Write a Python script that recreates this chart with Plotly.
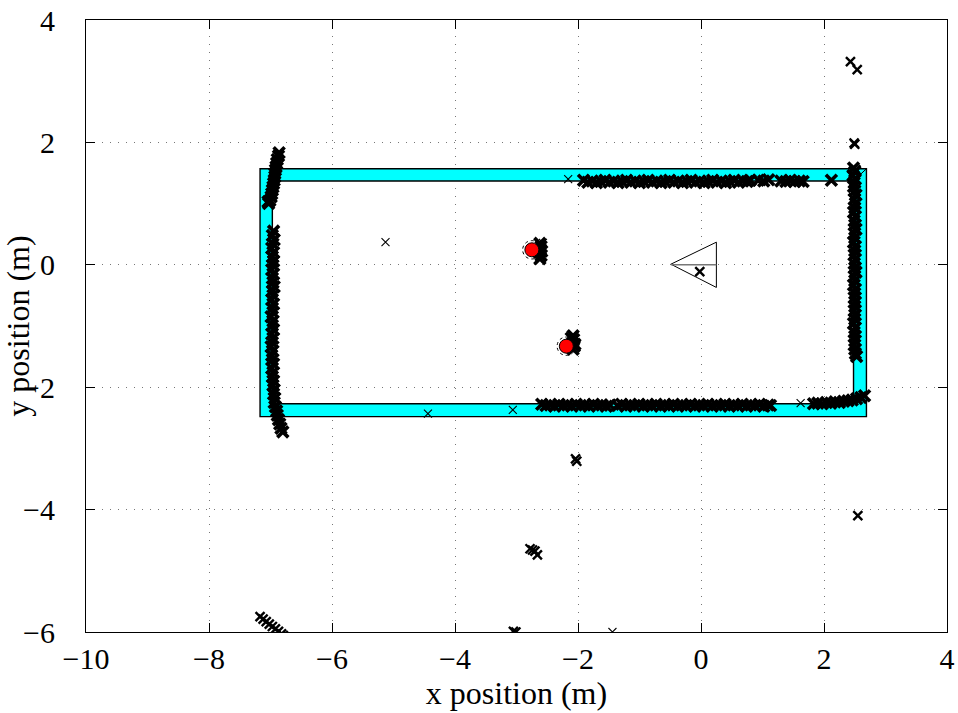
import plotly.graph_objects as go

# ---- room walls (outer / inner rectangle corners, metres) ----
wall_outer_x = [-7.17, 2.69]
wall_outer_y = [-2.48, 1.57]
wall_inner_x = [-6.97, 2.48]
wall_inner_y = [-2.27, 1.37]

# ---- laser scan hits: dense returns along the walls ----
left_up_x = [-6.86, -6.87, -6.89, -6.90, -6.91, -6.92, -6.93, -6.93, -6.94, -6.95,
             -6.96, -6.97, -6.98, -6.99, -7.01, -7.03, -7.04]
left_up_y = [1.83, 1.78, 1.72, 1.66, 1.60, 1.55, 1.49, 1.44, 1.38, 1.33,
             1.27, 1.22, 1.16, 1.11, 1.05, 1.00, 1.03]

left_lo_y = [0.55, 0.48, 0.41, 0.34, 0.27, 0.20, 0.13, 0.06, -0.01, -0.08,
             -0.15, -0.22, -0.29, -0.36, -0.43, -0.50, -0.57, -0.64, -0.71, -0.78,
             -0.85, -0.92, -0.99, -1.06, -1.13, -1.20, -1.27, -1.34, -1.41, -1.48,
             -1.55, -1.62, -1.69, -1.76, -1.83, -1.90, -1.97, -2.04, -2.11, -2.18,
             -2.25, -2.32, -2.39, -2.46, -2.53, -2.60, -2.67, -2.73]
left_lo_x = [-6.95, -6.97, -6.94, -6.96, -6.98, -6.95, -6.97, -6.95, -6.96, -6.98,
             -6.95, -6.97, -6.96, -6.94, -6.97, -6.96, -6.98, -6.95, -6.97, -6.96,
             -6.99, -6.96, -6.97, -6.95, -6.98, -6.96, -6.97, -6.99, -6.96, -6.98,
             -6.97, -6.95, -6.98, -6.96, -6.97, -6.95, -6.96, -6.94, -6.95, -6.93,
             -6.94, -6.92, -6.90, -6.89, -6.87, -6.85, -6.83, -6.80]

top_x = [-1.91, -1.84, -1.77, -1.70, -1.63, -1.56, -1.49, -1.42, -1.35, -1.28,
         -1.21, -1.14, -1.07, -1.00, -0.93, -0.86, -0.79, -0.72, -0.65, -0.58,
         -0.51, -0.44, -0.37, -0.30, -0.23, -0.16, -0.09, -0.02, 0.05, 0.12,
         0.19, 0.26, 0.33, 0.40, 0.47, 0.54, 0.61, 0.68, 0.75, 0.80,
         0.93, 1.02, 1.10, 1.30, 1.38, 1.45, 1.52, 1.60, 1.66, 2.12]
top_y = [1.38, 1.35, 1.37, 1.34, 1.36, 1.38, 1.35, 1.37, 1.34, 1.36,
         1.38, 1.35, 1.37, 1.34, 1.36, 1.38, 1.35, 1.37, 1.34, 1.36,
         1.38, 1.35, 1.37, 1.34, 1.36, 1.38, 1.35, 1.37, 1.34, 1.36,
         1.38, 1.35, 1.37, 1.34, 1.36, 1.38, 1.35, 1.37, 1.36, 1.38,
         1.38, 1.37, 1.39, 1.37, 1.36, 1.38, 1.36, 1.37, 1.36, 1.38]

right_y = [1.58, 1.52, 1.46, 1.40, 1.34, 1.28, 1.21, 1.14, 1.07, 1.00,
           0.93, 0.86, 0.79, 0.72, 0.65, 0.58, 0.51, 0.44, 0.37, 0.30,
           0.23, 0.16, 0.09, 0.02, -0.05, -0.12, -0.19, -0.26, -0.33, -0.40,
           -0.47, -0.54, -0.61, -0.68, -0.75, -0.82, -0.89, -0.96, -1.03, -1.10,
           -1.17, -1.24, -1.31, -1.38, -1.45, -1.50]
right_x = [2.48, 2.50, 2.47, 2.51, 2.49, 2.48, 2.50, 2.52, 2.49, 2.51,
           2.50, 2.48, 2.51, 2.49, 2.50, 2.52, 2.49, 2.50, 2.48, 2.51,
           2.50, 2.49, 2.51, 2.49, 2.50, 2.52, 2.49, 2.50, 2.48, 2.51,
           2.50, 2.49, 2.51, 2.50, 2.49, 2.51, 2.50, 2.48, 2.51, 2.49,
           2.50, 2.51, 2.49, 2.50, 2.51, 2.53]

bottom_x = [-2.59, -2.52, -2.45, -2.38, -2.31, -2.24, -2.17, -2.10, -2.03, -1.96,
            -1.89, -1.82, -1.75, -1.68, -1.61, -1.54, -1.48,
            -1.36, -1.29, -1.22, -1.15, -1.08, -1.01, -0.94, -0.87, -0.80, -0.73,
            -0.66, -0.59, -0.52, -0.45, -0.38, -0.31, -0.24, -0.17, -0.10, -0.03,
            0.04, 0.11, 0.18, 0.25, 0.32, 0.39, 0.46, 0.53, 0.60, 0.67,
            0.74, 0.81, 0.88, 0.95, 1.02, 1.09, 1.13,
            1.83, 1.90, 1.97, 2.04, 2.11, 2.18, 2.25, 2.32, 2.39, 2.46, 2.53, 2.60, 2.66]
bottom_y = [-2.28, -2.30, -2.29, -2.31, -2.28, -2.30, -2.29, -2.31, -2.28, -2.30,
            -2.29, -2.31, -2.28, -2.30, -2.29, -2.31, -2.29,
            -2.30, -2.28, -2.31, -2.29, -2.30, -2.28, -2.31, -2.29, -2.30, -2.28,
            -2.31, -2.29, -2.30, -2.28, -2.31, -2.29, -2.30, -2.28, -2.31, -2.29,
            -2.30, -2.28, -2.31, -2.29, -2.30, -2.28, -2.31, -2.29, -2.30, -2.28,
            -2.31, -2.29, -2.30, -2.28, -2.31, -2.29, -2.30,
            -2.27, -2.26, -2.27, -2.25, -2.26, -2.24, -2.25, -2.23, -2.22, -2.21, -2.19, -2.17, -2.14]

# returns from the two obstacles
obst_x = [-2.62, -2.60, -2.61, -2.63, -2.60, -2.62, -2.59,
          -2.08, -2.07, -2.09, -2.06, -2.08, -2.11, -2.05]
obst_y = [0.35, 0.30, 0.25, 0.20, 0.15, 0.10, 0.22,
          -1.16, -1.22, -1.28, -1.33, -1.38, -1.20, -1.30]

# heavier clusters of repeated returns
cluster_x = [-7.17, -7.12, -7.07, -7.02, -6.97, -6.92, -6.87, -6.82, -6.79,
             -2.78, -2.74, -2.70, -2.66, -2.04, -2.02, -3.05, -3.01,
             2.43, 2.54, 2.49, 2.50, 2.55, -0.02, 2.48, 2.52]
cluster_y = [-5.75, -5.79, -5.83, -5.87, -5.91, -5.95, -5.99, -6.03, -6.06,
             -4.64, -4.66, -4.68, -4.74, -3.17, -3.21, -5.99, -6.00,
             3.32, 3.19, 1.99, 1.97, -4.10, -0.11, 1.58, 1.55]

# isolated single returns
single_x = [-5.13, -4.44, -3.06, -2.16, 1.62, -1.44, 2.54, -2.57]
single_y = [0.37, -2.43, -2.37, 1.40, -2.26, -6.00, -1.50, 0.36]

# ---- landmark estimates and their uncertainty radius ----
land_x = [-2.75, -2.19]
land_y = [0.245, -1.33]
land_r = [0.15, 0.15]

# ---- robot pose triangle ----
robot_x = [-0.49, 0.25, 0.25, -0.49]
robot_y = [0.01, 0.37, -0.37, 0.01]
heading_x = [-0.49, 0.25]
heading_y = [0.0, 0.0]

FONT = "Liberation Serif"

fig = go.Figure()

scan_x = left_up_x + left_lo_x + top_x + right_x + bottom_x + obst_x
scan_y = left_up_y + left_lo_y + top_y + right_y + bottom_y + obst_y
fig.add_trace(go.Scatter(
    x=scan_x, y=scan_y, mode="markers",
    marker=dict(symbol="x-thin", size=11, line=dict(width=3.6, color="black")),
    showlegend=False, hoverinfo="skip"))
fig.add_trace(go.Scatter(
    x=cluster_x, y=cluster_y, mode="markers",
    marker=dict(symbol="x-thin", size=9, line=dict(width=2.4, color="black")),
    showlegend=False, hoverinfo="skip"))
fig.add_trace(go.Scatter(
    x=single_x, y=single_y, mode="markers",
    marker=dict(symbol="x-thin", size=8, line=dict(width=1.1, color="black")),
    showlegend=False, hoverinfo="skip"))

# robot
fig.add_trace(go.Scatter(
    x=robot_x, y=robot_y, mode="lines", fill="toself", fillcolor="white",
    line=dict(color="black", width=1), showlegend=False, hoverinfo="skip"))
fig.add_trace(go.Scatter(
    x=heading_x, y=heading_y, mode="lines",
    line=dict(color="#777777", width=1.5), showlegend=False, hoverinfo="skip"))
fig.add_trace(go.Scatter(
    x=[-0.02], y=[-0.11], mode="markers",
    marker=dict(symbol="x-thin", size=9, line=dict(width=2.4, color="black")),
    showlegend=False, hoverinfo="skip"))

# landmarks
fig.add_trace(go.Scatter(
    x=land_x, y=land_y, mode="markers",
    marker=dict(symbol="circle", size=14, color="red", line=dict(width=1, color="black")),
    showlegend=False, hoverinfo="skip"))

# walls: outer rectangle with the inner one cut out
ox0, ox1 = wall_outer_x
oy0, oy1 = wall_outer_y
ix0, ix1 = wall_inner_x
iy0, iy1 = wall_inner_y
wall_path = (f"M {ox0},{oy0} L {ox1},{oy0} L {ox1},{oy1} L {ox0},{oy1} Z "
             f"M {ix0},{iy0} L {ix0},{iy1} L {ix1},{iy1} L {ix1},{iy0} Z")
fig.add_shape(type="path", path=wall_path, xref="x", yref="y",
              fillcolor="#00ffff", line=dict(color="black", width=1.4), layer="between")
fig.add_shape(type="line", x0=ix1, y0=iy1, x1=ox1, y1=oy1, xref="x", yref="y",
              line=dict(color="black", width=1), layer="between")

for cx, cy, r in zip(land_x, land_y, land_r):
    fig.add_shape(type="circle", xref="x", yref="y",
                  x0=cx - r, x1=cx + r, y0=cy - r, y1=cy + r,
                  line=dict(color="black", width=1, dash="dot"), layer="above")

axis_common = dict(
    showline=True, linecolor="black", linewidth=1, mirror="ticks",
    ticks="inside", ticklen=9, tickcolor="black", tickwidth=1,
    showgrid=True, gridcolor="#777777", griddash="1px,7px", gridwidth=1.2,
    zeroline=False, automargin=False,
    tickfont=dict(family="Liberation Serif", size=30, color="black"),
)

fig.update_layout(
    width=958, height=713,
    margin=dict(l=86, r=11, t=20, b=81),
    paper_bgcolor="white", plot_bgcolor="white",
    font=dict(family=FONT, color="black", size=30),
    xaxis=dict(range=[-10, 4], dtick=2, tick0=0,
               title=dict(text="x position (m)", font=dict(family=FONT, size=32), standoff=0),
               ticklabelstandoff=0, **axis_common),
    yaxis=dict(range=[-6, 4], dtick=2, tick0=0,
               title=dict(text="y position (m)", font=dict(family=FONT, size=32), standoff=2),
               ticklabelstandoff=24, **axis_common),
)

fig.write_html("out.html")
